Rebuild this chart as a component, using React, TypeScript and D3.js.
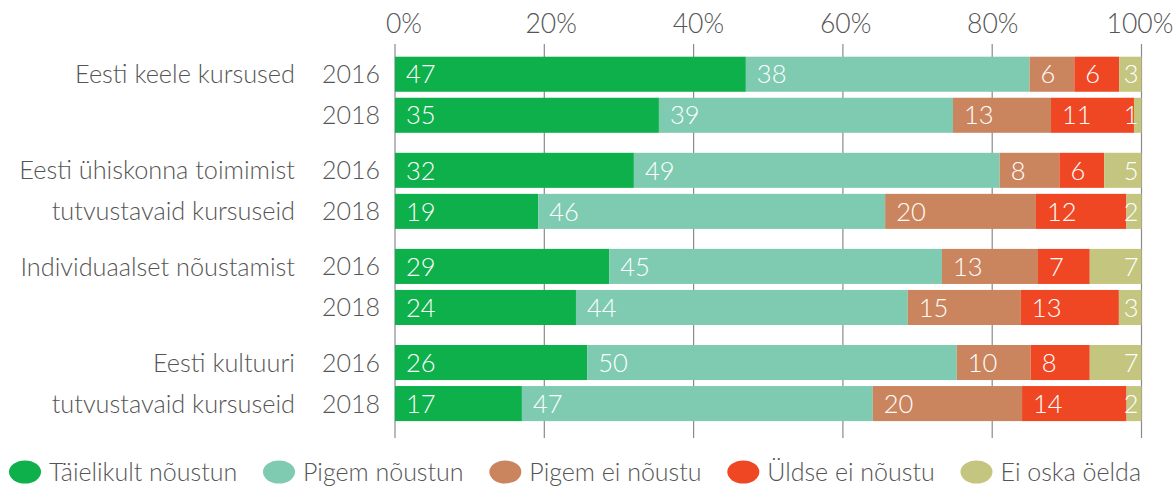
import React, { useEffect, useRef } from "react";
import * as d3 from "d3";

const categories: string[][] = [
  ["Eesti keele kursused"],
  ["Eesti ühiskonna toimimist", "tutvustavaid kursuseid"],
  ["Individuaalset nõustamist"],
  ["Eesti kultuuri", "tutvustavaid kursuseid"],
];
const years = ["2016", "2018"];
const seriesNames = [
  "Täielikult nõustun",
  "Pigem nõustun",
  "Pigem ei nõustu",
  "Üldse ei nõustu",
  "Ei oska öelda",
];
const colors = ["#0db04b", "#7ecbb1", "#ca855e", "#ef4724", "#c4c57f"];
const taielikultNoustun = [47, 35, 32, 19, 29, 24, 26, 17];
const pigemNoustun = [38, 39, 49, 46, 45, 44, 50, 47];
const pigemEiNoustu = [6, 13, 8, 20, 13, 15, 10, 20];
const uldseEiNoustu = [6, 11, 6, 12, 7, 13, 8, 14];
const eiOskaOelda = [3, 1, 5, 2, 7, 3, 7, 2];
const tickValues = [0, 20, 40, 60, 80, 100];

const W = 1176;
const H = 486;
const FONT = "Lato, 'Open Sans', sans-serif";
const WEIGHT = 300;
const TEXT = "#555555";
const GRID = "#8a8a8a";

export default function App() {
  const ref = useRef<SVGSVGElement>(null);

  useEffect(() => {
    const svg = d3.select(ref.current);
    svg.selectAll("*").remove();

    const series = [taielikultNoustun, pigemNoustun, pigemEiNoustu, uldseEiNoustu, eiOskaOelda];
    const x = d3.scaleLinear().domain([0, 100]).range([395, 1141.5]);
    const xLabel = d3.scaleLinear().domain([0, 100]).range([404, 1140]);
    const yGroup = d3
      .scaleBand<number>()
      .domain(d3.range(categories.length))
      .range([56.7, 421.1])
      .paddingInner(0.208)
      .paddingOuter(0);
    const yRow = d3
      .scaleBand<string>()
      .domain(years)
      .range([0, yGroup.bandwidth()])
      .paddingInner(0.146)
      .paddingOuter(0);

    // grid lines
    svg
      .append("g")
      .selectAll("line")
      .data(tickValues)
      .join("line")
      .attr("x1", (d) => x(d))
      .attr("x2", (d) => x(d))
      .attr("y1", 44)
      .attr("y2", 438)
      .attr("stroke", GRID)
      .attr("stroke-width", 1.2);

    // axis labels
    svg
      .append("g")
      .selectAll("text")
      .data(tickValues)
      .join("text")
      .attr("x", (d) => xLabel(d))
      .attr("y", 33)
      .attr("text-anchor", "middle")
      .attr("font-family", FONT)
      .attr("font-weight", WEIGHT)
      .attr("font-size", 26.5)
      .attr("fill", TEXT)
      .text((d) => `${d}%`);

    // bars
    const rowsG = svg.append("g");
    categories.forEach((lines, ci) => {
      years.forEach((yr, yi) => {
        const idx = ci * years.length + yi;
        const vals = series.map((s) => s[idx]);
        const total = d3.sum(vals);
        const top = (yGroup(ci) as number) + (yRow(yr) as number);
        const bh = yRow.bandwidth();
        let cum = 0;
        vals.forEach((v, si) => {
          const x0 = x((cum / total) * 100);
          cum += v;
          const x1 = x((cum / total) * 100);
          rowsG
            .append("rect")
            .attr("x", x0)
            .attr("y", top)
            .attr("width", x1 - x0)
            .attr("height", bh)
            .attr("fill", colors[si]);
        });
        cum = 0;
        vals.forEach((v, si) => {
          const x0 = x((cum / total) * 100);
          cum += v;
          const last = si === vals.length - 1;
          rowsG
            .append("text")
            .attr("x", last ? x(100) - 3 : x0 + 11)
            .attr("y", top + bh / 2)
            .attr("dy", "0.36em")
            .attr("text-anchor", last ? "end" : "start")
            .attr("font-family", FONT)
            .attr("font-weight", WEIGHT)
            .attr("font-size", 25.5)
            .attr("fill", "#ffffff")
            .text(v);
        });
        // year label
        svg
          .append("text")
          .attr("x", 380)
          .attr("y", top + bh / 2)
          .attr("dy", "0.36em")
          .attr("text-anchor", "end")
          .attr("font-family", FONT)
          .attr("font-weight", WEIGHT)
          .attr("font-size", 25)
          .attr("fill", TEXT)
          .text(yr);
        if (lines[yi]) {
          svg
            .append("text")
            .attr("x", 295)
            .attr("y", top + bh / 2)
            .attr("dy", "0.36em")
            .attr("text-anchor", "end")
            .attr("font-family", FONT)
            .attr("font-weight", WEIGHT)
            .attr("font-size", 25.3)
            .attr("fill", TEXT)
            .text(lines[yi]);
        }
      });
    });

    // legend
    const legend = svg.append("g");
    const items = seriesNames.map((name, i) => {
      const g = legend.append("g");
      g.append("ellipse").attr("rx", 16).attr("ry", 11.5).attr("cy", 0).attr("cx", 16).attr("fill", colors[i]);
      const t = g
        .append("text")
        .attr("x", 40)
        .attr("y", 0)
        .attr("dy", "0.36em")
        .attr("font-family", FONT)
        .attr("font-weight", WEIGHT)
        .attr("font-size", 25)
        .attr("fill", TEXT)
        .text(name);
      const w = 40 + (t.node() as SVGTextElement).getComputedTextLength();
      return { g, w };
    });
    const start = 9;
    const end = 1141;
    const totalW = d3.sum(items, (d) => d.w);
    const gap = (end - start - totalW) / (items.length - 1);
    let cx = start;
    items.forEach((it) => {
      it.g.attr("transform", `translate(${cx},472)`);
      cx += it.w + gap;
    });
  }, []);

  return (
    <svg
      ref={ref}
      width={W}
      height={H}
      style={{ position: "absolute", left: 0, top: 0, background: "#ffffff" }}
    />
  );
}
